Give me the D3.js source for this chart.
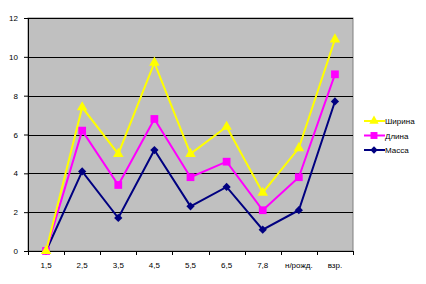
<!DOCTYPE html>
<html>
<head>
<meta charset="utf-8">
<script src="https://cdn.jsdelivr.net/npm/d3@7"></script>
<style>
  body { margin: 0; background: #fff; }
  text { font-family: "Liberation Sans", Arial, sans-serif; font-size: 8px; fill: #000; }
</style>
</head>
<body>
<div id="chart"></div>
<script>
// data
var categories = ["1,5", "2,5", "3,5", "4,5", "5,5", "6,5", "7,8", "н/рожд.", "взр."];
var shirina = [0, 7.4, 5.0, 9.7, 5.0, 6.4, 3.0, 5.3, 10.9];
var dlina   = [0, 6.2, 3.4, 6.8, 3.8, 4.6, 2.1, 3.8, 9.1];
var massa   = [0, 4.1, 1.7, 5.2, 2.3, 3.3, 1.1, 2.1, 7.7];
var yTicks  = [0, 2, 4, 6, 8, 10, 12];

var series = [
    {name: "Ширина", values: shirina, color: "#FFFF00", marker: d3.symbolTriangle, size: 48, rot: 0},
    {name: "Длина",  values: dlina,   color: "#FF00FF", marker: d3.symbolSquare,   size: 60, rot: 0},
    {name: "Масса",  values: massa,   color: "#000080", marker: d3.symbolSquare,   size: 34, rot: 45}
];

var W = 426, H = 284;
var margin = {top: 18, right: 73, bottom: 33, left: 28},
    width = W - margin.left - margin.right,
    height = H - margin.top - margin.bottom;

var svg = d3.select("#chart")
    .append("svg")
    .attr("width", W)
    .attr("height", H);

var g = svg.append("g")
    .attr("transform", "translate(" + margin.left + "," + margin.top + ")");

var x = d3.scaleBand()
    .domain(categories)
    .range([0, width]);

var y = d3.scaleLinear()
    .domain([0, 12])
    .range([height, 0]);

// plot area
g.append("rect")
    .attr("width", width)
    .attr("height", height)
    .style("fill", "#C0C0C0")
    .style("stroke", "#808080")
    .style("stroke-width", 1);

// gridlines
g.selectAll(".grid")
    .data(yTicks.filter(function (d) { return d > 0; }))
    .enter()
    .append("line")
    .attr("x1", 0)
    .attr("x2", width)
    .attr("y1", function (d) { return Math.round(y(d)) + 0.5; })
    .attr("y2", function (d) { return Math.round(y(d)) + 0.5; })
    .style("stroke", "#000")
    .style("stroke-width", 1);

// Y axis
var yAxis = g.append("g")
    .call(d3.axisLeft(y).tickValues(yTicks).tickSize(4).tickPadding(6).tickFormat(d3.format("d")));
yAxis.select(".domain").style("stroke", "#000");
yAxis.selectAll("text").style("font-size", "8px");

// X axis with ticks at category boundaries
var xAxisG = g.append("g")
    .attr("transform", "translate(0," + height + ")");
xAxisG.append("line")
    .attr("x1", 0).attr("x2", width)
    .attr("y1", 0.5).attr("y2", 0.5)
    .style("stroke", "#000");
xAxisG.selectAll(".xt")
    .data(d3.range(categories.length + 1))
    .enter()
    .append("line")
    .attr("x1", function (i) { return Math.round(i * x.step()) + 0.5; })
    .attr("x2", function (i) { return Math.round(i * x.step()) + 0.5; })
    .attr("y1", 0)
    .attr("y2", 4)
    .style("stroke", "#000");
xAxisG.selectAll(".xl")
    .data(categories)
    .enter()
    .append("text")
    .attr("x", function (d) { return x(d) + x.bandwidth() / 2; })
    .attr("y", 17)
    .attr("text-anchor", "middle")
    .text(function (d) { return d; });

// lines and markers (drawn bottom series first so Ширина sits on top)
var line = d3.line()
    .x(function (d, i) { return x(categories[i]) + x.bandwidth() / 2; })
    .y(function (d) { return y(d); });

series.slice().reverse().forEach(function (s) {
    g.append("path")
        .datum(s.values)
        .attr("d", line)
        .style("fill", "none")
        .style("stroke", s.color)
        .style("stroke-width", 2);
    g.selectAll(null)
        .data(s.values)
        .enter()
        .append("path")
        .attr("d", d3.symbol().type(s.marker).size(s.size))
        .attr("transform", function (d, i) {
            return "translate(" + (x(categories[i]) + x.bandwidth() / 2) + "," + y(d) + ") rotate(" + s.rot + ")";
        })
        .style("fill", s.color);
});

// legend
var legend = svg.append("g")
    .attr("transform", "translate(364,121)");
series.forEach(function (s, i) {
    var row = legend.append("g").attr("transform", "translate(0," + (i * 14.5) + ")");
    row.append("line")
        .attr("x1", 0).attr("x2", 21)
        .style("stroke", s.color)
        .style("stroke-width", 2);
    row.append("path")
        .attr("d", d3.symbol().type(s.marker).size(s.size * 0.8))
        .attr("transform", "translate(10,0) rotate(" + s.rot + ")")
        .style("fill", s.color);
    row.append("text")
        .attr("x", 21)
        .attr("y", 3)
        .text(s.name);
});
</script>
</body>
</html>
